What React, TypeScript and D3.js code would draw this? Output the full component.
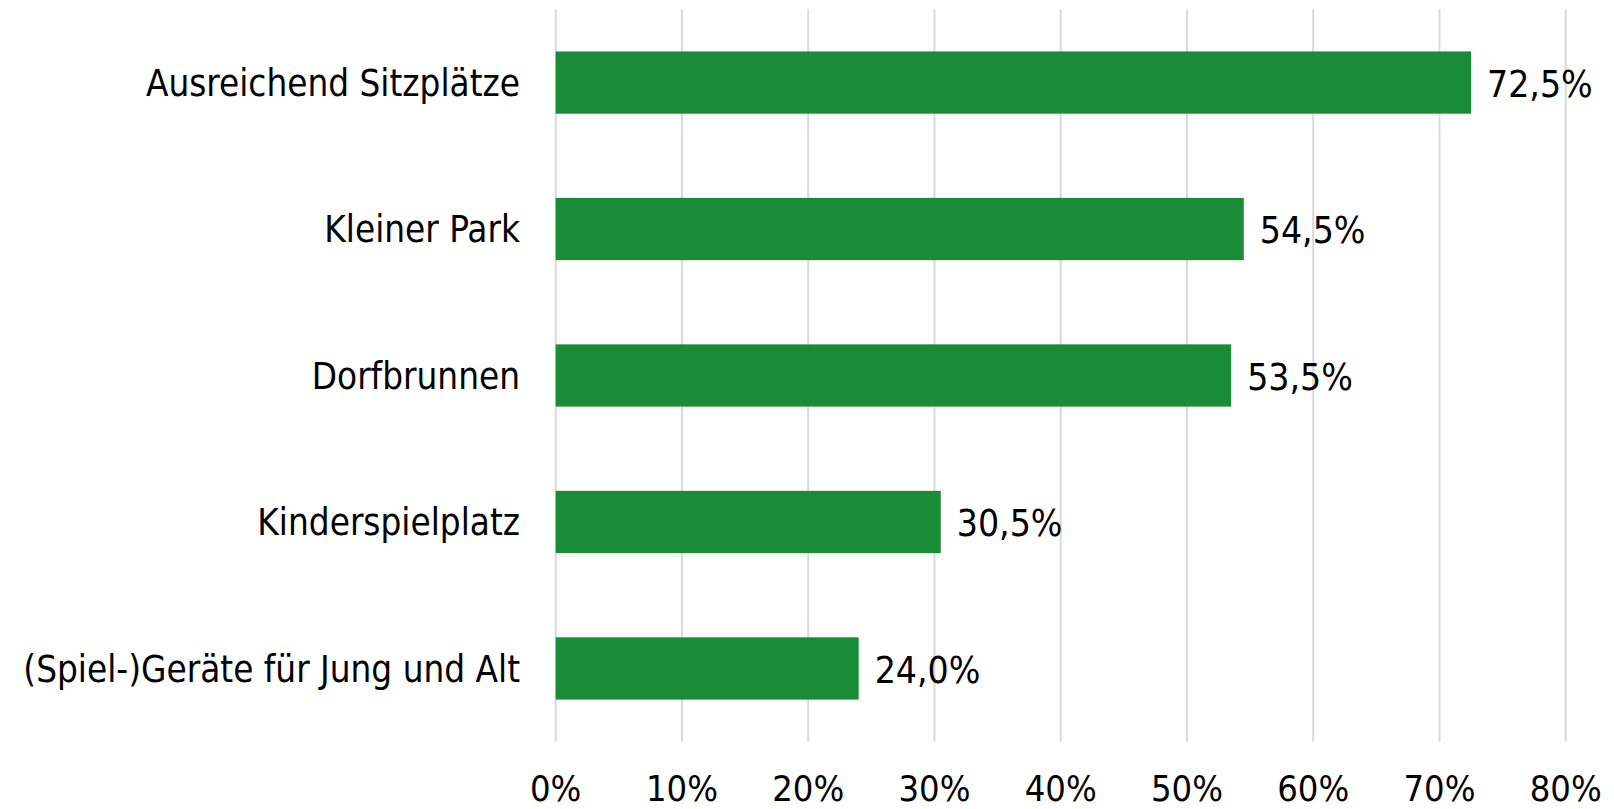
import React from "react";
import * as d3 from "d3";

const categories = [
  "Ausreichend Sitzplätze",
  "Kleiner Park",
  "Dorfbrunnen",
  "Kinderspielplatz",
  "(Spiel-)Geräte für Jung und Alt",
];
const values = [72.5, 54.5, 53.5, 30.5, 24.0];
const ticks = [0, 10, 20, 30, 40, 50, 60, 70, 80];

const W = 1614;
const H = 809;
const FONT = "'DejaVu Sans Condensed', 'DejaVu Sans', sans-serif";

export default function App() {
  const x = d3.scaleLinear().domain([0, 80]).range([555.7, 1565.7]);
  const y = d3
    .scaleBand<string>()
    .domain(categories)
    .range([9.3, 741.7])
    .paddingInner(0.575)
    .paddingOuter(0.2875);
  const fmt = (v: number) => v.toFixed(1).replace(".", ",") + "%";

  return (
    <svg
      width={W}
      height={H}
      style={{ position: "absolute", left: 0, top: 0, background: "#fff" }}
      fontFamily={FONT}
    >
      <rect width={W} height={H} fill="#fff" />
      {ticks.map((t) => (
        <g key={t}>
          <line
            x1={x(t)}
            x2={x(t)}
            y1={9.3}
            y2={741.7}
            stroke="#d9d9d9"
            strokeWidth={2}
          />
          <text
            x={x(t)}
            y={801}
            textAnchor="middle"
            fontSize={36}
            fill="#000"
          >
            {t}%
          </text>
        </g>
      ))}
      {categories.map((c, i) => {
        const by = y(c)!;
        const bh = y.bandwidth();
        return (
          <g key={c}>
            <rect
              x={x(0)}
              y={by}
              width={x(values[i]) - x(0)}
              height={bh}
              fill="#1a8c37"
            />
            <text
              x={520}
              y={by + bh / 2}
              dy="0.36em"
              textAnchor="end"
              fontSize={36.5}
              fill="#000"
            >
              {c}
            </text>
            <text
              x={x(values[i]) + 16}
              y={by + bh / 2}
              dy="0.38em"
              textAnchor="start"
              fontSize={37}
              fill="#000"
            >
              {fmt(values[i])}
            </text>
          </g>
        );
      })}
    </svg>
  );
}
